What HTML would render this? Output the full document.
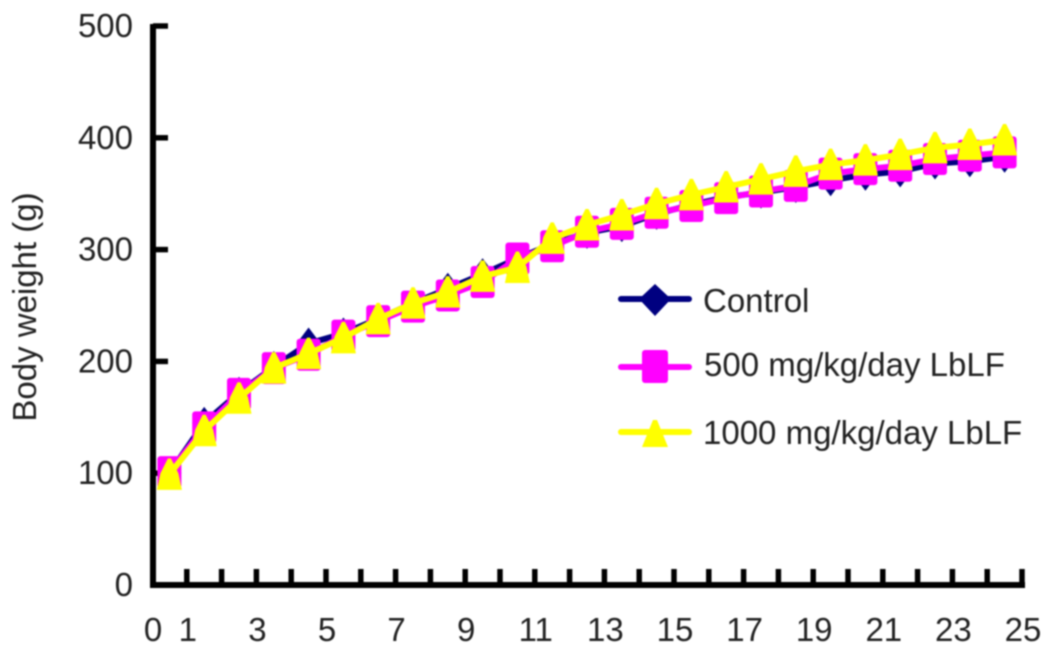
<!DOCTYPE html>
<html lang="en">
<head>
<meta charset="utf-8">
<title>Body weight chart</title>
<style>
html,body{margin:0;padding:0;background:#fff;width:1054px;height:653px;overflow:hidden}
svg{display:block;filter:blur(0.8px)}
text{font-family:"Liberation Sans",Arial,sans-serif;fill:#222}
</style>
</head>
<body>
<svg id="chart" width="1054" height="653" viewBox="0 0 1054 653" xmlns="http://www.w3.org/2000/svg"></svg>
<script>
const yTickLabels = [0, 100, 200, 300, 400, 500];
const xTickLabels = [0, 1, 3, 5, 7, 9, 11, 13, 15, 17, 19, 21, 23, 25];
const xTickCount = 25;
const weeks = [0.5,1.5,2.5,3.5,4.5,5.5,6.5,7.5,8.5,9.5,10.5,11.5,12.5,13.5,14.5,15.5,16.5,17.5,18.5,19.5,20.5,21.5,22.5,23.5,24.5];
const controlValues = [100,145,172,195,216,225,238,252,265,278,292,305,315,321,332,340,347,351,356,362,367,370,377,379,383];
const lowDoseValues = [101,141,171,194,206,223,236,249,259,271,292,303,316,323,333,339,346,352,357,368,372,375,381,384,387];
const highDoseValues = [99,138,167,194,207,221,238,252,262,276,284,310,322,331,341,349,356,363,370,376,380,385,391,394,398];

const NS = 'http://www.w3.org/2000/svg';
const svg = document.getElementById('chart');
const xScale = v => 152 + 34.8 * v;
const yScale = v => 585 - 1.118 * v;

function make(tag, attrs, parent) {
  const el = document.createElementNS(NS, tag);
  for (const k in attrs) el.setAttribute(k, attrs[k]);
  (parent || svg).appendChild(el);
  return el;
}
function diamondPts(x, y) { return `${x},${y-16} ${x+12},${y} ${x},${y+16} ${x-12},${y}`; }
function trianglePts(x, y) { return `${x-1.5},${y-16} ${x+1.5},${y-16} ${x+9},${y-1} ${x+12.5},${y+15.5} ${x-12.5},${y+15.5} ${x-9},${y-1}`; }

// axes
const yAxis = make('line', {x1:xScale(0)+1, y1:yScale(500)-2, x2:xScale(0)+1, y2:yScale(0)+3, stroke:'#000','stroke-width':6});


const xAxis = make('line', {x1:xScale(0)-2, y1:yScale(0), x2:xScale(xTickCount)+3, y2:yScale(0), stroke:'#000','stroke-width':6});



yTickLabels.forEach(v => {
  const t = make('line', {x1:xScale(0)+1, y1:yScale(v), x2:xScale(0)+16, y2:yScale(v), stroke:'#000','stroke-width':5.5});
  
  
  const l = make('text', {x:133, y:yScale(v)+11, 'text-anchor':'end','font-size':33});
  
  
  l.textContent = v;
});
for (let i = 1; i <= xTickCount; i++) {
  const t = make('line', {x1:xScale(i), y1:yScale(0), x2:xScale(i), y2:yScale(0)-16, stroke:'#000','stroke-width':5.5});
  
  
}
xTickLabels.forEach(v => {
  const l = make('text', {x:xScale(v)+1, y:641, 'text-anchor':'middle','font-size':33});
  
  
  l.textContent = v;
});

const yTitle = make('text', {x:0, y:0, transform:'translate(36,307) rotate(-90)', 'text-anchor':'middle','font-size':33});


yTitle.textContent = 'Body weight (g)';

function points(values) {
  return values.map((v, i) => xScale(weeks[i]) + ',' + yScale(v)).join(' ');
}

// control series
const g1 = make('g', {});


make('polyline', {points:points(controlValues), fill:'none', stroke:'#000080','stroke-width':6,'stroke-linejoin':'round'}, g1);
controlValues.forEach((v, i) => {
  const m = make('polygon', {points:diamondPts(xScale(weeks[i]), yScale(v)), fill:'#000080'}, g1);
  
  
});

// 500 mg series
const g2 = make('g', {});


make('polyline', {points:points(lowDoseValues), fill:'none', stroke:'#ff00ff','stroke-width':6,'stroke-linejoin':'round'}, g2);
lowDoseValues.forEach((v, i) => {
  const m = make('rect', {x:xScale(weeks[i])-12, y:yScale(v)-16, width:24, height:32, rx:3, fill:'#ff00ff'}, g2);
  
  
});

// 1000 mg series
const g3 = make('g', {});


make('polyline', {points:points(highDoseValues), fill:'none', stroke:'#ffff00','stroke-width':6,'stroke-linejoin':'round'}, g3);
highDoseValues.forEach((v, i) => {
  const m = make('polygon', {points:trianglePts(xScale(weeks[i]), yScale(v)), fill:'#ffff00'}, g3);
  
  
});

// legend
const lg = make('g', {});



const e1 = make('g', {}, lg);


make('line', {x1:621, y1:299, x2:689, y2:299, stroke:'#000080','stroke-width':6,'stroke-linecap':'round'}, e1);
make('polygon', {points:'655,284 671,299 655,316 639,299', fill:'#000080'}, e1);
make('text', {x:703, y:312, 'font-size':33}, e1).textContent = 'Control';

const e2 = make('g', {}, lg);


make('line', {x1:621, y1:367, x2:689, y2:367, stroke:'#ff00ff','stroke-width':6,'stroke-linecap':'round'}, e2);
make('rect', {x:642, y:350, width:26, height:33, rx:3, fill:'#ff00ff'}, e2);
make('text', {x:704, y:376, 'font-size':33}, e2).textContent = '500 mg/kg/day LbLF';

const e3 = make('g', {}, lg);


make('line', {x1:621, y1:432, x2:689, y2:432, stroke:'#ffff00','stroke-width':6,'stroke-linecap':'round'}, e3);
make('polygon', {points:'653,420 657,420 668,447 642,447', fill:'#ffff00'}, e3);
make('text', {x:703, y:444, 'font-size':33}, e3).textContent = '1000 mg/kg/day LbLF';
</script>
</body>
</html>
